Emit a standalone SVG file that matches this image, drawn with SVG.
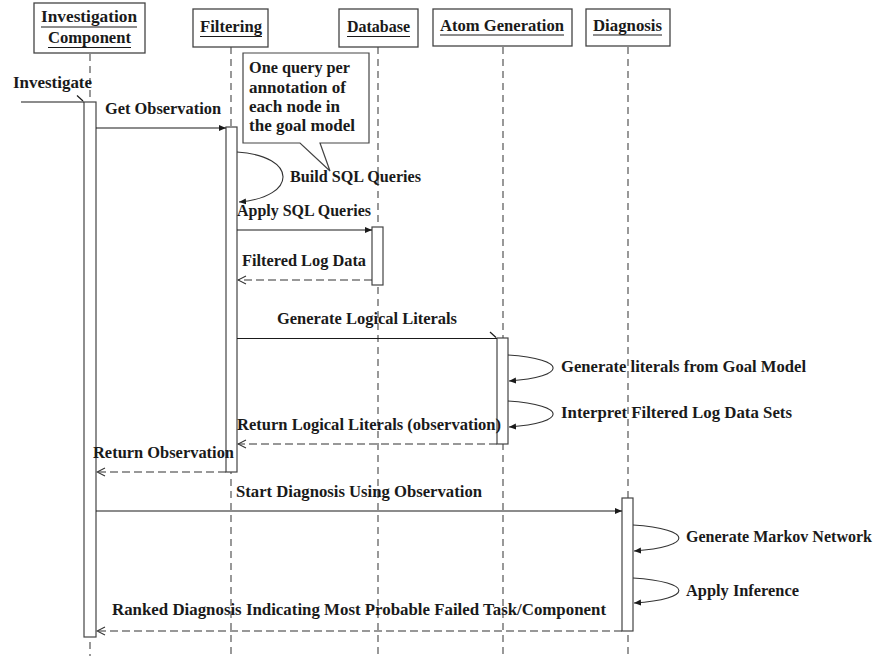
<svg xmlns="http://www.w3.org/2000/svg" width="878" height="656" viewBox="0 0 878 656">
  <style>
    text { font-family: "Liberation Serif", "DejaVu Serif", serif; font-weight: bold; font-size: 16px; fill: #1a1a1a; }
    .box { fill: #ffffff; stroke: #444444; stroke-width: 1.3; }
    .uline { stroke: #1a1a1a; stroke-width: 1.2; }
    .life { stroke: #555555; stroke-width: 1.2; stroke-dasharray: 7 5; fill: none; }
    .act { fill: #ffffff; stroke: #444444; stroke-width: 1.2; }
    .msg { stroke: #1a1a1a; stroke-width: 1.2; fill: none; }
    .ret { stroke: #333333; stroke-width: 1.2; fill: none; stroke-dasharray: 8 4; }
    .loop { stroke: #333333; stroke-width: 1.1; fill: none; }
    .note { fill: #ffffff; stroke: #444444; stroke-width: 1.2; }
  </style>
  <defs>
    <marker id="solid" markerUnits="userSpaceOnUse" markerWidth="8" markerHeight="8" refX="7" refY="4" orient="auto">
      <path d="M0,1 L7,4 L0,7 z" fill="#1a1a1a"/>
    </marker>
    <marker id="open" markerUnits="userSpaceOnUse" markerWidth="10" markerHeight="10" refX="9" refY="5" orient="auto">
      <path d="M1,1 L9,5 L1,9" fill="none" stroke="#333333" stroke-width="1.1"/>
    </marker>
  </defs>

  <rect width="878" height="656" fill="#ffffff"/>

  <!-- lifelines -->
  <g id="lifelines">
    <line class="life" x1="90" y1="54" x2="90" y2="656"/>
    <line class="life" x1="231" y1="47" x2="231" y2="656"/>
    <line class="life" x1="378" y1="47" x2="378" y2="656"/>
    <line class="life" x1="503" y1="47" x2="503" y2="656"/>
    <line class="life" x1="628" y1="47" x2="628" y2="656"/>
  </g>

  <!-- participants -->
  <g id="investigation-component">
    <rect class="box" x="34" y="3" width="111" height="50"/>
    <text x="41" y="22" textLength="96" lengthAdjust="spacingAndGlyphs">Investigation</text>
    <line class="uline" x1="41" y1="27" x2="137" y2="27"/>
    <text x="48" y="43" textLength="83" lengthAdjust="spacingAndGlyphs">Component</text>
    <line class="uline" x1="48" y1="47.5" x2="131" y2="47.5"/>
  </g>
  <g id="filtering">
    <rect class="box" x="193" y="9" width="75" height="38"/>
    <text x="200" y="32" textLength="62" lengthAdjust="spacingAndGlyphs">Filtering</text>
    <line class="uline" x1="200" y1="36.5" x2="262" y2="36.5"/>
  </g>
  <g id="database">
    <rect class="box" x="339" y="9" width="79" height="38"/>
    <text x="347" y="32" textLength="63" lengthAdjust="spacingAndGlyphs">Database</text>
    <line class="uline" x1="347" y1="36.5" x2="410" y2="36.5"/>
  </g>
  <g id="atom-generation">
    <rect class="box" x="433" y="9" width="139" height="37"/>
    <text x="440" y="31" textLength="124" lengthAdjust="spacingAndGlyphs">Atom Generation</text>
    <line class="uline" x1="440" y1="35" x2="564" y2="35"/>
  </g>
  <g id="diagnosis">
    <rect class="box" x="586" y="9" width="84" height="37"/>
    <text x="593" y="31" textLength="69" lengthAdjust="spacingAndGlyphs">Diagnosis</text>
    <line class="uline" x1="593" y1="35" x2="662" y2="35"/>
  </g>

  <!-- activation bars -->
  <g id="activations">
    <rect class="act" x="84" y="102" width="12" height="535"/>
    <rect class="act" x="226" y="127" width="11" height="345"/>
    <rect class="act" x="372" y="227" width="11" height="58"/>
    <rect class="act" x="497" y="338" width="11" height="106"/>
    <rect class="act" x="622" y="498" width="11" height="133"/>
  </g>

  <!-- note attached to the query builder -->
  <g id="note-queries">
    <path class="note" d="M243,53 L369,53 L369,143 L320,143 L330,171 L300,143 L243,143 Z"/>
    <text x="249" y="73" textLength="101" lengthAdjust="spacingAndGlyphs">One query per</text>
    <text x="249" y="93" textLength="97" lengthAdjust="spacingAndGlyphs">annotation of</text>
    <text x="249" y="112" textLength="91" lengthAdjust="spacingAndGlyphs">each node in</text>
    <text x="249" y="131" textLength="106" lengthAdjust="spacingAndGlyphs">the goal model</text>
  </g>

  <!-- messages -->
  <g id="connectors">
    <line class="msg" x1="21" y1="102" x2="84" y2="102"/>
    <line class="msg" x1="77" y1="95.5" x2="83" y2="101"/>
    <line class="msg" x1="96" y1="128" x2="226" y2="128" marker-end="url(#solid)"/>
    <path class="loop" d="M237,152 C298,156 298,197 239,202" marker-end="url(#solid)"/>
    <line class="msg" x1="237" y1="230" x2="372" y2="230" marker-end="url(#solid)"/>
    <line class="ret" x1="372" y1="280" x2="238" y2="280" marker-end="url(#open)"/>
    <line class="msg" x1="237" y1="338.5" x2="497" y2="338.5"/>
    <line class="msg" x1="490" y1="332" x2="496" y2="337.5"/>
    <path class="loop" d="M508,355 C568,359 568,377 509,381" marker-end="url(#solid)"/>
    <path class="loop" d="M508,401 C568,405 568,423 509,427" marker-end="url(#solid)"/>
    <line class="ret" x1="497" y1="444" x2="238" y2="444" marker-end="url(#open)"/>
    <line class="ret" x1="226" y1="472" x2="97" y2="472" marker-end="url(#open)"/>
    <line class="msg" x1="96" y1="511" x2="622" y2="511" marker-end="url(#solid)"/>
    <path class="loop" d="M633,525 C694,529 694,547 634,551" marker-end="url(#solid)"/>
    <path class="loop" d="M633,578 C694,582 694,599 634,603" marker-end="url(#solid)"/>
    <line class="ret" x1="622" y1="631" x2="97" y2="631" marker-end="url(#open)"/>
  </g>

  <!-- message labels -->
  <g id="labels">
    <text x="13" y="88" textLength="79" lengthAdjust="spacingAndGlyphs">Investigate</text>
    <text x="105" y="114" textLength="116" lengthAdjust="spacingAndGlyphs">Get Observation</text>
    <text x="290" y="182" textLength="131" lengthAdjust="spacingAndGlyphs">Build SQL Queries</text>
    <text x="237" y="216" textLength="134" lengthAdjust="spacingAndGlyphs">Apply SQL Queries</text>
    <text x="242" y="266" textLength="124" lengthAdjust="spacingAndGlyphs">Filtered Log Data</text>
    <text x="277" y="324" textLength="180" lengthAdjust="spacingAndGlyphs">Generate Logical Literals</text>
    <text x="561" y="372" textLength="245" lengthAdjust="spacingAndGlyphs">Generate literals from Goal Model</text>
    <text x="561" y="418" textLength="231" lengthAdjust="spacingAndGlyphs">Interpret Filtered Log Data Sets</text>
    <text x="237" y="430" textLength="264" lengthAdjust="spacingAndGlyphs">Return Logical Literals (observation)</text>
    <text x="93" y="458" textLength="141" lengthAdjust="spacingAndGlyphs">Return Observation</text>
    <text x="236" y="497" textLength="246" lengthAdjust="spacingAndGlyphs">Start Diagnosis Using Observation</text>
    <text x="686" y="542" textLength="186" lengthAdjust="spacingAndGlyphs">Generate Markov Network</text>
    <text x="686" y="596" textLength="113" lengthAdjust="spacingAndGlyphs">Apply Inference</text>
    <text x="112" y="615" textLength="494" lengthAdjust="spacingAndGlyphs">Ranked Diagnosis Indicating Most Probable Failed Task/Component</text>
  </g>
</svg>
